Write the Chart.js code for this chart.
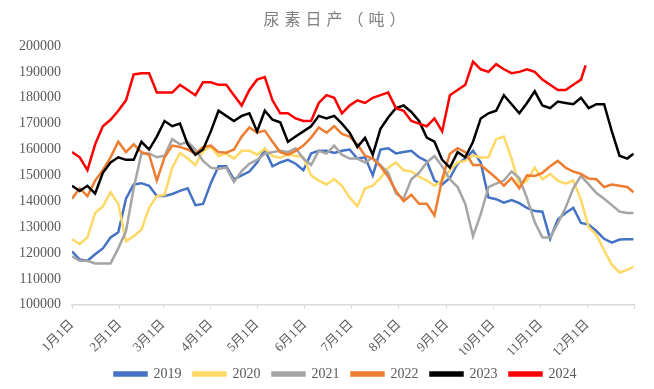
<!DOCTYPE html>
<html>
<head>
<meta charset="utf-8">
<script src="https://cdn.jsdelivr.net/npm/chart.js@4/dist/chart.umd.min.js"></script>
<style>
  html, body { margin: 0; padding: 0; background: #fff; }
  #wrap { width: 654px; height: 389px; }
</style>
</head>
<body>
<div id="wrap"><canvas id="grafico"></canvas></div>
<script>
// dias do ano (0 = 1月1日), amostra a cada 5 dias
const days = [0,5,10,15,20,25,30,35,40,45,50,55,60,65,70,75,80,85,90,95,100,105,110,115,120,125,130,135,140,145,150,155,160,165,170,175,180,185,190,195,200,205,210,215,220,225,230,235,240,245,250,255,260,265,270,275,280,285,290,295,300,305,310,315,320,325,330,335,340,345,350,355,360,364]
const days2024 = [0,5,10,15,20,25,30,35,40,45,50,55,60,65,70,75,80,85,90,95,100,105,110,115,120,125,130,135,140,145,150,155,160,165,170,175,180,185,190,195,200,205,210,215,220,225,230,235,240,245,250,255,260,265,270,275,280,285,290,295,300,305,310,315,320,325,330,333]

const monthStarts = [0,31,59,90,120,151,181,212,243,273,304,334]
const monthLabels = ['1月1日','2月1日','3月1日','4月1日','5月1日','6月1日','7月1日','8月1日','9月1日','10月1日','11月1日','12月1日']

const yTicks = [100000,110000,120000,130000,140000,150000,160000,170000,180000,190000,200000]

// valores em mil toneladas
const v2019 = [120.6,117.5,117,119.5,121.8,126,128,141,146.5,147,146,142,142,142.8,144,145,138.5,139,147,153.5,153.5,148.5,150,151.5,155,160,153.5,155,156,154.5,152,158.5,159.5,159.5,158.7,159.5,160,156.5,157,150,160,160.5,158.5,159,159.5,157,155.5,148,146.5,149,154.5,156.5,159.5,155,141.5,140.8,139.5,140.5,139.3,137.4,136.2,136,125.5,133,135.5,137.5,131.6,131,128.5,125.5,124,125.2,125.3,125.3]
const v2020 = [125.3,123.5,126,135.5,138,143.5,139,124.5,126.5,129,137.5,142,142.5,153,158.7,156.5,154,159.5,161,157.5,158.4,156.5,159.5,159.5,158,160.3,157.5,156.8,158,157.6,157,150,148,146.5,148.6,146,141.5,138,145,146,149,153,155,152,151.5,149.5,148,146,148,152,155,155.6,157.8,156.8,157,164,165,156.5,146,148,153,148.5,150.5,148,146.8,148,140.5,130,127,121,115.5,112.5,113.5,114.8]
const v2021 = [118.7,117,117,116,116,116,121.8,128.5,145,158.5,158.5,157,157.6,164,162,163,160,155.6,153,152.5,153,147.5,151.7,154.5,156,158.4,159,159.5,159,160.5,156.5,154,159.5,158.4,161.5,158,156.5,156.5,155,156.8,154,151,143,141,148.5,151,155,157.5,153.5,148.5,145.5,139,126.5,135,145.5,146.8,148,151.5,149,141.2,132,126,126,131.5,137.5,145,149.8,146.5,143.2,141,138.5,136,135.5,135.5]
const v2022 = [141,145,142,148,152,157,163,159,162,159,158,148,157,161.5,161,160,158.4,161,161.5,159,158.8,160,165,168.5,166.5,167.3,163,159,158,159.5,161.5,164.6,168.5,166.5,169,166,165,162,157.6,156.5,153.5,149.5,144,140,142.5,139,139,134.5,148.6,158.4,160.5,159,154,154,151.5,149,146,149,145,150,149.8,151,153.5,155.6,153,151.5,150.6,148.8,148.5,145.5,146.5,146,145.5,143.5]
const v2023 = [146,144,146,143,151,155,157,156,156,163,160,165,171,169,170,162,158,160,167,175,173,171,173,174,167,175,171.5,170.5,163,165,167,169,173,172,173,170,166.5,161,164.5,158,168,172.4,176,177,174.5,171,164.6,163,156,153,159,157,163,172,174,175,181,177.5,174,178,182.5,177,176,178.5,178,177.5,180,176,177.5,177.5,167,157.6,156.5,158.4]
const v2024 = [159,157,152,162,169,171.5,175,179,189,189.5,189.5,182,182,182,185,183,181,186,186,185,185,181,177,183,187,188,179,174,174,172,171,171,178,181,180,174,177,179,178,180,181,182,176,175,171,170,169,172,167,181,183,185,194,191,190,193,191,189.5,190,191,190,187,185,183,183,185,187,192.5]

const anos = ['2019','2020','2021','2022','2023','2024']
const cores = ['#4472C4','#FFD966','#A5A5A5','#ED7D31','#000000','#FF0000']
const series = [v2019, v2020, v2021, v2022, v2023, v2024]

const datasets = series.map((valores, i) => {
    const dx = i === 5 ? days2024 : days
    return {
        label: anos[i],
        data: valores.map((v, k) => ({ x: dx[k], y: v * 1000 })),
        borderColor: cores[i],
        backgroundColor: cores[i],
        borderWidth: 2.5,
        pointRadius: 0,
        tension: 0,
        order: 5 - i
    }
})

// titulo desenhado a mao para ter o espacamento das letras
const titulo = {
    id: 'titulo',
    afterDraw(chart) {
        const ctx = chart.ctx
        ctx.save()
        ctx.font = '16px "Noto Sans CJK SC"'
        ctx.letterSpacing = '5px'
        ctx.fillStyle = '#7f7f7f'
        ctx.textAlign = 'center'
        ctx.textBaseline = 'middle'
        ctx.fillText('尿素日产（吨）', 337, 19)
        ctx.restore()
    }
}

// legenda um pouco mais baixa e mais a esquerda
const ajusteLegenda = {
    id: 'ajusteLegenda',
    beforeInit(chart) {
        const fit = chart.legend.fit
        chart.legend.fit = function () {
            fit.call(this)
            this.height -= 2
        }
    },
    afterLayout(chart) {
        chart.legend.left -= 8
        chart.legend.right -= 8
    }
}

const serif = '"Liberation Serif", "Noto Sans CJK SC", serif'

new Chart(document.getElementById('grafico'), {
    type: 'line',
    data: { datasets: datasets },
    options: {
        responsive: true,
        maintainAspectRatio: false,
        animation: false,
        layout: { padding: { left: 8, right: 17, top: 46, bottom: 0 } },
        plugins: {
            legend: {
                position: 'bottom',
                fullSize: false,
                labels: {
                    boxWidth: 32,
                    boxHeight: 3,
                    padding: 12,
                    color: '#595959',
                    font: { family: serif, size: 14 },
                    sort: (a, b) => a.datasetIndex - b.datasetIndex
                }
            },
            tooltip: { enabled: false }
        },
        scales: {
            x: {
                type: 'linear',
                min: 0,
                max: 365,
                afterBuildTicks: (scale) => {
                    scale.ticks = monthStarts.concat([365]).map(v => ({ value: v }))
                },
                afterFit: (scale) => {
                    scale.height -= 13
                },
                grid: {
                    drawOnChartArea: false,
                    drawTicks: true,
                    tickLength: 4,
                    color: '#d9d9d9'
                },
                border: { color: '#d9d9d9', width: 1.5 },
                ticks: {
                    autoSkip: false,
                    minRotation: 45,
                    maxRotation: 45,
                    padding: 8,
                    color: '#595959',
                    font: { family: serif, size: 13 },
                    callback: (value) => {
                        const idx = monthStarts.indexOf(value)
                        return idx >= 0 ? monthLabels[idx] : ''
                    }
                }
            },
            y: {
                min: 100000,
                max: 200000,
                afterBuildTicks: (scale) => {
                    scale.ticks = yTicks.map(v => ({ value: v }))
                },
                grid: { display: false, drawTicks: false },
                border: { display: false },
                ticks: {
                    padding: 11,
                    color: '#595959',
                    font: { family: serif, size: 14 },
                    callback: (value) => String(value)
                }
            }
        }
    },
    plugins: [titulo, ajusteLegenda]
})
</script>
</body>
</html>
